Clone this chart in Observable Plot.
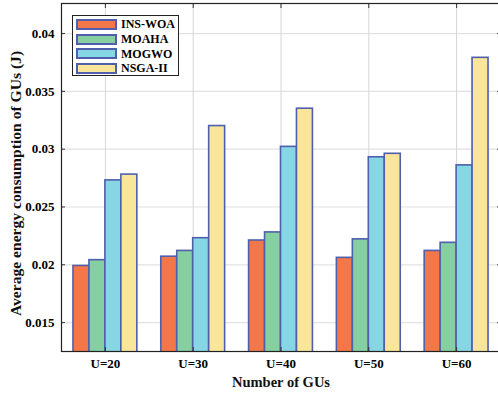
<!DOCTYPE html>
<html><head><meta charset="utf-8">
<script src="https://cdn.jsdelivr.net/npm/d3@7"></script>
<script src="https://cdn.jsdelivr.net/npm/@observablehq/plot@0.6"></script>
<style>
body{margin:0;background:#fff;}
#wrap{position:relative;width:498px;height:395px;overflow:hidden;font-family:"Liberation Serif","Times New Roman",serif;font-weight:bold;}
#legend{position:absolute;left:72px;top:15px;width:107px;height:61px;border:1px solid #222;background:#fff;box-sizing:border-box;padding:1px 0 0 3px;}
.row{display:flex;align-items:center;height:14.8px;font-size:12px;color:#000;white-space:nowrap;}
.sw{flex:none;width:37px;height:7px;border:2px solid #4f5fae;margin-right:4px;}
</style></head>
<body><div id="wrap"><div id="legend"></div></div>
<script>
const groups = ["U=20", "U=30", "U=40", "U=50", "U=60"];
const series = ["INS-WOA", "MOAHA", "MOGWO", "NSGA-II"];
const insWoa = [0.0199, 0.0207, 0.0221, 0.0206, 0.0212];
const moaha  = [0.0204, 0.0212, 0.0228, 0.0222, 0.0219];
const mogwo  = [0.0273, 0.0223, 0.0302, 0.0293, 0.0286];
const nsga2  = [0.0278, 0.0320, 0.0335, 0.0296, 0.0379];
const yTicks = [0.015, 0.02, 0.025, 0.03, 0.035, 0.04];
const colors = ["#f4774a", "#86cfa0", "#86d6e3", "#fae69a"];
const xTitle = "Number of GUs";
const yTitle = "Average energy consumption of GUs (J)";

const values = [insWoa, moaha, mogwo, nsga2];
const rows = [];
values.forEach((arr, si) => arr.forEach((v, gi) => rows.push({gi, si, group: groups[gi], series: series[si], value: v})));

const groupWidth = 4 / 5.5;
const barW = groupWidth / series.length;
const gIdx = groups.map((_, i) => i);
const serif = "Liberation Serif, Times New Roman, serif";

const chart = Plot.plot({
  width: 498,
  height: 395,
  marginLeft: 61,
  marginRight: -2,
  marginTop: 3,
  marginBottom: 44,
  style: {fontFamily: serif, fontSize: "13px", fontWeight: "bold", color: "#000", background: "#fff"},
  x: {type: "linear", domain: [-0.5, groups.length - 0.5], axis: null},
  y: {domain: [0.0125, 0.0426], axis: null},
  color: {domain: series, range: colors},
  marks: [
    Plot.gridY(yTicks, {stroke: "#e2e2e2", strokeOpacity: 1, strokeWidth: 1.2}),
    Plot.gridX(gIdx, {stroke: "#d6d6d6", strokeOpacity: 1}),
    Plot.rect(rows, {
      x1: d => d.gi - groupWidth / 2 + d.si * barW,
      x2: d => d.gi - groupWidth / 2 + (d.si + 1) * barW,
      y1: 0,
      y2: "value",
      fill: "series",
      stroke: "#4f5fae",
      strokeWidth: 1.6,
      clip: true
    }),
    Plot.axisY(yTicks, {anchor: "left", tickSize: -4, tickPadding: 11, stroke: "#333", fill: "#000", tickFormat: d => String(+d.toFixed(3)), label: null}),
    Plot.axisY(yTicks, {anchor: "right", tickSize: -4, stroke: "#333", tickFormat: () => "", label: null}),
    Plot.axisX(gIdx, {anchor: "bottom", tickSize: -4, tickPadding: 11, stroke: "#333", fill: "#000", tickFormat: i => groups[i], label: null}),
    Plot.axisX(gIdx, {anchor: "top", tickSize: -4, stroke: "#333", tickFormat: () => "", label: null}),
    Plot.frame({stroke: "#222", strokeWidth: 1.2}),
    Plot.text([xTitle], {frameAnchor: "bottom", dy: 31, fontSize: 14.5, fontWeight: "bold", fill: "#111", textAnchor: "middle", lineAnchor: "middle"}),
    Plot.text([yTitle], {frameAnchor: "left", dx: -46, dy: 6, rotate: -90, fontSize: 15.6, fontWeight: "bold", fill: "#111", textAnchor: "middle", lineAnchor: "middle"})
  ]
});
const wrap = document.getElementById("wrap");
wrap.insertBefore(chart, wrap.firstChild);
const legend = document.getElementById("legend");
series.forEach((s, i) => {
  const r = document.createElement("div");
  r.className = "row";
  const sw = document.createElement("div");
  sw.className = "sw";
  sw.style.background = colors[i];
  const t = document.createElement("span");
  t.textContent = s;
  r.appendChild(sw); r.appendChild(t);
  legend.appendChild(r);
});
</script>
</body></html>
